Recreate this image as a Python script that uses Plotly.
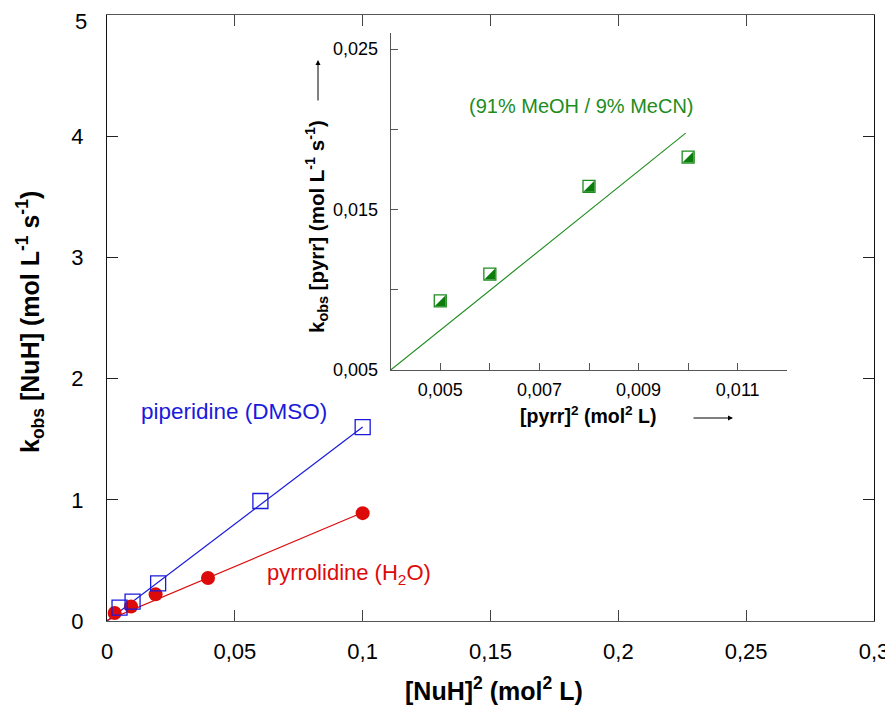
import plotly.graph_objects as go

# ---------------- data ----------------
pip_x = [0.0049, 0.0100, 0.0200, 0.0600, 0.1000]
pip_y = [0.11, 0.16, 0.31, 0.99, 1.60]
pip_fit_x = [0.0, 0.1]
pip_fit_y = [0.0, 1.60]

pyr_x = [0.0030, 0.0094, 0.0190, 0.0395, 0.1000]
pyr_y = [0.066, 0.12, 0.22, 0.355, 0.89]
pyr_fit_x = [0.0, 0.1]
pyr_fit_y = [0.005, 0.895]

ins_x = [0.005, 0.006, 0.008, 0.010]
ins_y = [0.00931, 0.01097, 0.01644, 0.01827]
ins_fit_x = [0.004, 0.00995]
ins_fit_y = [0.005, 0.01976]

main_xticks = [0, 0.05, 0.1, 0.15, 0.2, 0.25, 0.3]
main_xlabels = ["0", "0,05", "0,1", "0,15", "0,2", "0,25", "0,3"]
main_yticks = [0, 1, 2, 3, 4, 5]
main_ylabels = ["0", "1", "2", "3", "4", ""]
main_ytop_label = "5"
ins_xticks = [0.004, 0.005, 0.006, 0.007, 0.008, 0.009, 0.010, 0.011, 0.012]
ins_xlabels = ["", "0,005", "", "0,007", "", "0,009", "", "0,011", ""]
ins_yticks = [0.005, 0.010, 0.015, 0.020, 0.025]
ins_ylabels = ["0,005", "", "0,015", "", "0,025"]

BLUE = "#1a1adc"
RED = "#dd0a0a"
GREEN = "#0a7d0a"
GREEN_T = "#1e8c1e"
FONT = "Liberation Sans, Arial, sans-serif"

# pixel geometry helpers (page body has an 8px margin)
OFF = 8
W, H = 893 - OFF, 707 - OFF
L, R, T, B = 107 - OFF, 19, 15 - OFF, 86
PW, PH = W - L - R, H - T - B


def px(x):
    return (x - OFF - L) / PW


def py(y):
    return (H - B - (y - OFF)) / PH


fig = go.Figure()

# main fits
fig.add_trace(go.Scatter(x=pip_fit_x, y=pip_fit_y, mode="lines",
                         line=dict(color=BLUE, width=1.2), showlegend=False))
fig.add_trace(go.Scatter(x=pyr_fit_x, y=pyr_fit_y, mode="lines",
                         line=dict(color=RED, width=1.2), showlegend=False))
# main markers
fig.add_trace(go.Scatter(x=pyr_x, y=pyr_y, mode="markers",
                         marker=dict(symbol="circle", size=14, color=RED, line=dict(width=0)),
                         showlegend=False))
fig.add_trace(go.Scatter(x=pip_x, y=pip_y, mode="markers",
                         marker=dict(symbol="square-open", size=15, color=BLUE, line=dict(width=1.3)),
                         showlegend=False))

# inset
fig.add_trace(go.Scatter(x=ins_fit_x, y=ins_fit_y, mode="lines", xaxis="x2", yaxis="y2",
                         line=dict(color=GREEN_T, width=1.1), showlegend=False))
fig.add_trace(go.Scatter(x=ins_x, y=ins_y, mode="markers", xaxis="x2", yaxis="y2",
                         marker=dict(symbol="square", size=12, color="white",
                                     line=dict(color=GREEN_T, width=1.3)),
                         showlegend=False))
fig.add_trace(go.Scatter(x=ins_x, y=ins_y, mode="markers", xaxis="x3", yaxis="y3",
                         marker=dict(symbol="triangle-se", size=12.2, color=GREEN,
                                     line=dict(width=0)),
                         showlegend=False))

# inset domain in (reference) pixels
ix0, ix1, iy0, iy1 = 390.7, 787.3, 370, 33
xd = [px(ix0), px(ix1)]
yd = [py(iy0), py(iy1)]
sh = 1.7
xd3 = [px(ix0 + sh), px(ix1 + sh)]
yd3 = [py(iy0 + sh), py(iy1 + sh)]

axfont = dict(family=FONT, size=22, color="black")
insfont = dict(family=FONT, size=18, color="black")

fig.update_layout(
    width=W, height=H,
    margin=dict(l=L, r=R, t=T, b=B, autoexpand=False),
    paper_bgcolor="white", plot_bgcolor="rgba(0,0,0,0)",
    font=dict(family=FONT, color="black"),
    xaxis=dict(range=[0, 0.3], tickvals=main_xticks, ticktext=main_xlabels,
               ticks="inside", ticklen=11, tickcolor="#444", tickwidth=1,
               showline=True, linecolor="#555", linewidth=1.2, mirror="ticks",
               showgrid=False, zeroline=False, tickfont=axfont, ticklabelstandoff=10,
               automargin=False, ticklabeloverflow="allow"),
    yaxis=dict(range=[0, 5], tickvals=main_yticks, ticktext=main_ylabels,
               ticks="inside", ticklen=11, tickcolor="#222", tickwidth=1,
               showline=True, linecolor="#111", linewidth=1.2, mirror="ticks",
               showgrid=False, zeroline=False, tickfont=axfont, ticklabelstandoff=18,
               automargin=False, ticklabeloverflow="allow"),
    xaxis2=dict(domain=xd, anchor="y2", range=[0.004, 0.012],
                tickvals=ins_xticks, ticktext=ins_xlabels,
                ticks="inside", ticklen=7, tickcolor="#555",
                showline=True, linecolor="#555", linewidth=1.2,
                showgrid=False, zeroline=False, tickfont=insfont, ticklabelstandoff=3,
                automargin=False),
    yaxis2=dict(domain=yd, anchor="x2", range=[0.005, 0.026],
                tickvals=ins_yticks, ticktext=ins_ylabels,
                ticks="inside", ticklen=7, tickcolor="#555",
                showline=True, linecolor="#555", linewidth=1.2,
                showgrid=False, zeroline=False, tickfont=insfont, ticklabelstandoff=8,
                automargin=False),
    xaxis3=dict(domain=xd3, anchor="y3", range=[0.004, 0.012], visible=False,
                automargin=False),
    yaxis3=dict(domain=yd3, anchor="x3", range=[0.005, 0.026], visible=False,
                automargin=False),
)

annos = [
    dict(text="<b>k<sub>obs</sub> [NuH] (mol L<sup>-1</sup> s<sup>-1</sup>)</b>",
         x=px(30), y=py(322), textangle=-90, font=dict(size=25)),
    dict(text="<b>[NuH]<sup>2</sup> (mol<sup>2</sup> L)</b>",
         x=px(494), y=py(689), font=dict(size=25)),
    dict(text="piperidine (DMSO)", x=px(234), y=py(411), font=dict(size=22.5, color=BLUE)),
    dict(text="pyrrolidine (H<sub>2</sub>O)", x=px(349), y=py(574), font=dict(size=22, color=RED)),
    dict(text="(91% MeOH / 9% MeCN)", x=px(581), y=py(106), font=dict(size=20, color=GREEN_T)),
    dict(text="<b>k<sub>obs</sub> [pyrr] (mol L<sup>-1</sup> s<sup>-1</sup>)</b>",
         x=px(316), y=py(227), textangle=-90, font=dict(size=20.5)),
    dict(text="<b>[pyrr]<sup>2</sup> (mol<sup>2</sup> L)</b>",
         x=px(588), y=py(415), font=dict(size=19.5)),
]
for a in annos:
    a.update(xref="paper", yref="paper", showarrow=False, xanchor="center", yanchor="middle")
    fig.add_annotation(**a)

# top y tick label, nudged down as in the reference
fig.add_annotation(text=main_ytop_label, xref="paper", yref="paper", x=px(89), y=py(22),
                   xanchor="right", yanchor="middle", showarrow=False,
                   font=dict(family=FONT, size=22, color="black"))

# arrows beside inset titles
fig.add_annotation(x=px(318), y=py(60), xref="paper", yref="paper", text="",
                   showarrow=True, ax=0, ay=42, arrowhead=2, arrowsize=1, arrowwidth=1,
                   arrowcolor="black")
fig.add_annotation(x=px(733), y=py(418), xref="paper", yref="paper", text="",
                   showarrow=True, ax=-41, ay=0, arrowhead=2, arrowsize=1, arrowwidth=1,
                   arrowcolor="black")

fig.write_html("out.html")
